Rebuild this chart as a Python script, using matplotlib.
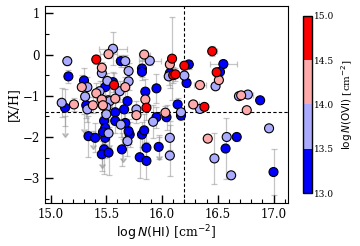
import numpy as np
import matplotlib
matplotlib.use("Agg")
import matplotlib.pyplot as plt
from matplotlib.ticker import MultipleLocator

plt.rcParams['font.family'] = ['DejaVu Serif']
plt.rcParams['mathtext.fontset'] = 'dejavusans'

# log N(HI), [X/H], log N(OVI), errors on [X/H] and on N(HI)
log_nhi = [15.16, 15.30, 15.13, 15.32, 15.49, 15.56, 15.48, 15.49, 15.34, 15.40,
           15.49, 15.48, 15.46, 15.52, 15.47, 15.64, 15.71, 15.80, 15.86, 15.86,
           15.97, 15.82, 15.84, 15.63, 15.82, 15.82, 16.07, 15.69, 15.66, 15.58,
           15.85, 15.95, 15.95, 16.04, 16.14, 15.70, 15.67, 15.58, 16.55, 16.52,
           16.24, 16.22, 16.88, 16.17, 16.67, 16.57, 17.00,
           15.15, 15.56, 15.46, 15.33, 15.31, 15.44, 15.51, 15.10, 15.33, 15.47,
           15.52, 15.52, 15.69, 15.63, 15.92, 16.07, 16.07, 15.67, 15.70, 15.89,
           16.06, 15.70, 15.77, 15.62, 15.53, 15.50, 16.20, 16.48, 16.69, 16.77,
           16.34, 16.17, 16.96, 16.58, 16.47, 16.62, 15.50,
           15.52, 15.46, 15.28, 15.41, 15.21, 15.38, 15.84, 16.07, 15.67, 15.85,
           15.77, 16.03, 16.51, 16.34, 16.28, 16.76, 16.41, 15.58, 15.46, 15.47,
           16.71,
           15.41, 15.57, 16.09, 16.10, 15.86, 16.45, 16.49, 16.20, 16.12, 16.38]
x_h = [-0.53, -0.63, -1.29, -1.23, -0.79, -0.67, -1.61, -1.78, -1.98, -2.02,
       -2.02, -2.30, -2.42, -2.38, -1.88, -2.30, -1.94, -2.49, -2.58, -2.26,
       -2.24, -1.94, -1.84, -0.16, -0.34, -0.42, -0.45, -1.13, -1.33, -1.40,
       -0.90, -0.82, -1.52, -1.52, -1.21, -1.86, -1.66, -1.61, -0.23, -0.42,
       -0.24, -0.69, -1.11, -1.48, -2.00, -2.28, -2.85,
       -0.16, 0.14, -0.45, -0.79, -1.02, -0.89, -0.64, -1.17, -1.33, -1.23,
       -1.11, -1.91, -2.10, -1.70, -1.63, -2.02, -2.45, -0.16, -0.40, -0.15,
       -0.53, -0.65, -1.33, -0.89, -1.13, -1.28, -0.51, -0.77, -1.01, -0.97,
       -1.32, -1.40, -1.79, -2.00, -2.52, -2.93, -1.45,
       0.01, -0.32, -0.79, -0.94, -1.21, -1.23, 0.00, -0.24, -0.79, -1.09,
       -1.47, -1.41, -0.62, -0.74, -1.21, -1.35, -2.04, -1.07, -1.09, -1.23,
       -0.99,
       -0.12, -0.74, -0.10, -0.50, -1.29, 0.08, -0.43, -0.27, -0.48, -1.27]
log_novi = [13.30, 13.20, 13.40, 13.25, 13.35, 13.15, 13.30, 13.20, 13.10, 13.40,
            13.30, 13.25, 13.35, 13.20, 13.45, 13.30, 13.20, 13.15, 13.35, 13.25,
            13.40, 13.30, 13.20, 13.35, 13.25, 13.30, 13.40, 13.20, 13.15, 13.35,
            13.30, 13.25, 13.40, 13.20, 13.30, 13.35, 13.25, 13.10, 13.30, 13.40,
            13.25, 13.35, 13.20, 13.30, 13.25, 13.40, 13.30,
            13.70, 13.80, 13.65, 13.75, 13.90, 13.60, 13.85, 13.70, 13.75, 13.80,
            13.65, 13.70, 13.85, 13.60, 13.75, 13.80, 13.70, 13.90, 13.65, 13.75,
            13.80, 13.70, 13.60, 13.85, 13.75, 13.70, 13.80, 13.65, 13.75, 13.90,
            13.70, 13.80, 13.60, 13.75, 13.85, 13.70, 13.65,
            14.20, 14.30, 14.15, 14.25, 14.35, 14.10, 14.20, 14.30, 14.25, 14.15,
            14.40, 14.20, 14.30, 14.25, 14.35, 14.20, 14.15, 14.30, 14.25, 14.20,
            14.30,
            14.70, 14.80, 14.65, 14.75, 14.90, 14.70, 14.60, 14.85, 14.75, 14.70]
xh_err = [0.15, 0.30, 0.45, 0.30, 0.20, 0.25, 0.30, 0.40, 0.50, 0.35,
          0.50, 0.60, 0.40, 0.55, 0.30, 0.40, 0.30, 0.50, 0.45, 0.35,
          0.30, 0.30, 0.40, 0.15, 0.20, 0.20, 0.35, 0.30, 0.25, 0.30,
          0.30, 0.35, 0.25, 0.30, 0.15, 0.30, 0.35, 0.30, 0.10, 0.10,
          0.10, 0.10, 0.05, 0.10, 0.10, 0.75, 0.55,
          0.10, 0.40, 0.20, 0.25, 0.30, 0.25, 0.20, 0.35, 0.30, 0.25,
          0.30, 0.35, 0.35, 0.30, 0.40, 0.30, 0.50, 0.15, 0.20, 0.10,
          0.20, 0.20, 0.20, 0.25, 0.30, 0.30, 0.10, 0.05, 0.05, 0.05,
          0.05, 0.10, 0.05, 0.00, 0.62, 0.05, 0.30,
          0.10, 0.15, 0.30, 0.25, 0.15, 0.20, 0.10, 0.20, 0.25, 0.20,
          0.20, 0.15, 0.05, 0.08, 0.05, 0.05, 0.05, 0.25, 0.25, 0.20,
          0.05,
          0.10, 0.30, 1.00, 0.20, 0.30, 0.12, 0.10, 0.10, 0.15, 0.05]
nhi_err = [0.0] * len(log_nhi)
for i, e in [(38, 0.12), (48, 0.13), (66, 0.10), (72, 0.05), (76, 0.05),
             (84, 0.08), (90, 0.05), (97, 0.05), (98, 0.05), (110, 0.04)]:
    nhi_err[i] = e

# upper limits (grey arrows)
ul_nhi = [15.13, 15.38, 15.46, 15.52, 15.65, 15.97, 15.30, 16.07]
ul_top = [-1.50, -1.85, -2.10, -1.75, -2.05, -2.00, -1.45, -1.60]
ul_len = [0.40, 0.35, 0.55, 0.45, 0.45, 0.45, 0.35, 0.40]

fig = plt.figure(figsize=(3.6, 2.46), dpi=100)
ax = fig.add_axes([0.125, 0.175, 0.675, 0.801])
cax = fig.add_axes([0.841, 0.215, 0.026, 0.721])

ax.errorbar(log_nhi, x_h, yerr=xh_err, xerr=nhi_err, fmt='none', ecolor='0.55',
            alpha=0.5, elinewidth=0.9, capsize=2, capthick=0.9, zorder=1)
ax.errorbar(ul_nhi, ul_top, yerr=ul_len, uplims=True, fmt='none', ecolor='0.55',
            color='0.55', alpha=0.5, elinewidth=0.9, capsize=2, zorder=1)

cmap = plt.get_cmap('bwr', 4)
sc = ax.scatter(log_nhi, x_h, c=log_novi, cmap=cmap, vmin=13, vmax=15, s=42,
                edgecolors='black', linewidths=0.8, zorder=3)

ax.axvline(16.2, color='black', ls='--', lw=0.8, dashes=(3, 2), zorder=2)
ax.axhline(-1.4, color='black', ls='--', lw=0.8, dashes=(3, 2), zorder=2)

ax.set_xlim(14.95, 17.13)
ax.set_ylim(-3.6, 1.18)
ax.xaxis.set_major_locator(MultipleLocator(0.5))
ax.xaxis.set_minor_locator(MultipleLocator(0.1))
ax.yaxis.set_major_locator(MultipleLocator(1))
ax.yaxis.set_minor_locator(MultipleLocator(0.5))
ax.tick_params(which='both', direction='in', labelsize=8.5)
ax.tick_params(which='major', length=6, width=1)
ax.tick_params(which='minor', length=3, width=0.8)
ax.set_xlabel(r'$\log N(\rm HI)$ [cm$^{-2}$]', fontsize=9, labelpad=2)
ax.set_ylabel('[X/H]', fontsize=9, labelpad=2)

cb = fig.colorbar(sc, cax=cax, ticks=[13.0, 13.5, 14.0, 14.5, 15.0], format='%.1f')
cb.ax.tick_params(labelsize=6.5, length=0, pad=1)
cb.outline.set_linewidth(1)
cb.set_label(r'$\log N(\rm OVI)$ [cm$^{-2}$]', fontsize=7.5, labelpad=4)

fig.savefig('out.png', dpi=100)
